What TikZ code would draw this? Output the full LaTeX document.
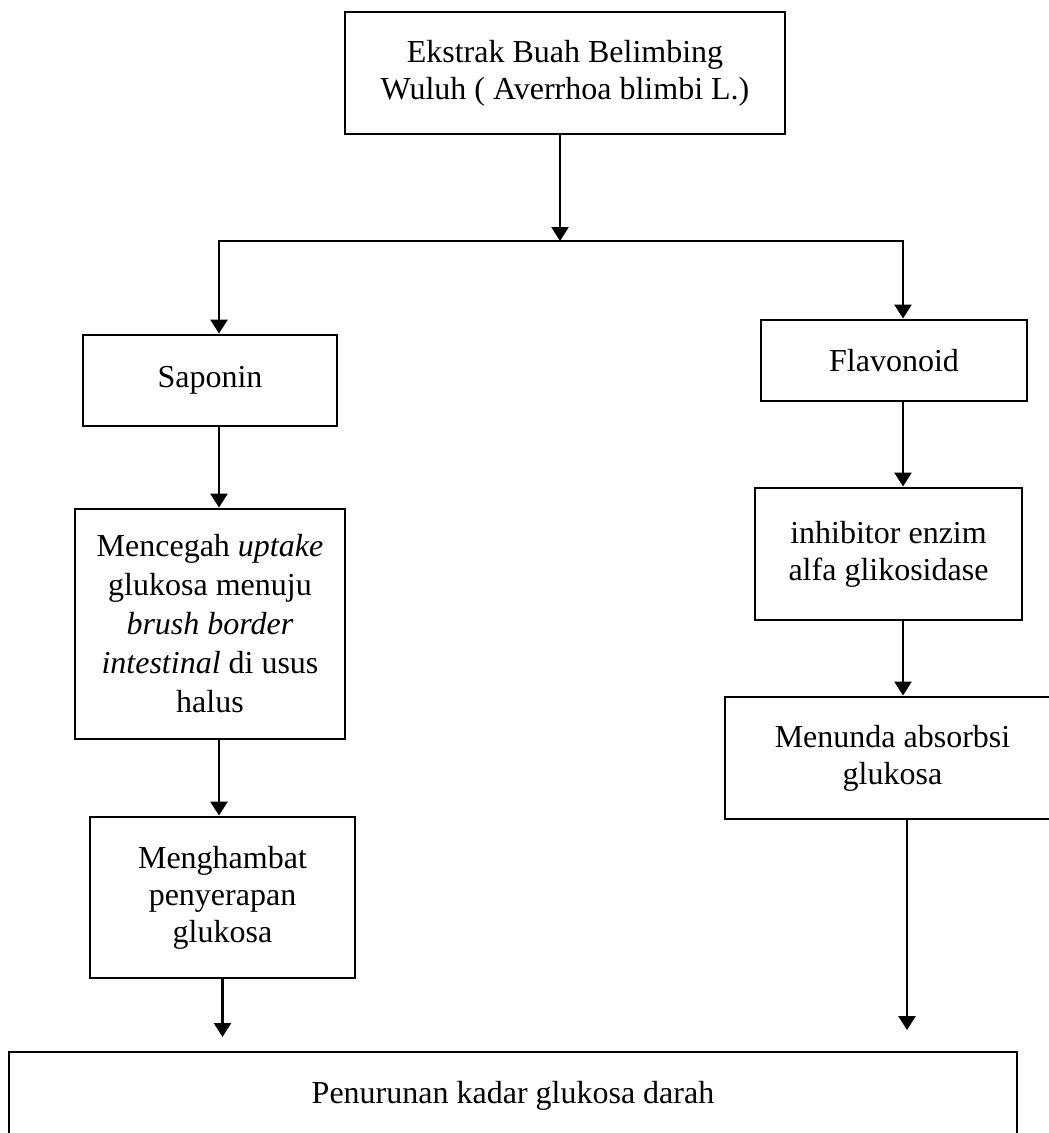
\documentclass[tikz,border=0pt]{standalone}
\usepackage{fontspec}
\setmainfont{Liberation Serif}
\usetikzlibrary{arrows.meta}
\begin{document}
\begin{tikzpicture}[x=1pt,y=-1pt,
  box/.style={draw, line width=2.9pt, align=center, inner sep=0pt,
    font=\fontsize{32}{37}\selectfont},
  arr/.style={line width=2.6pt, -{Triangle[width=17pt,length=14pt]}},
  arrtwo/.style={line width=2.6pt, {Triangle[width=17pt,length=14pt]}-{Triangle[width=17pt,length=14pt]}},
  ln/.style={line width=2.6pt}]
\useasboundingbox (0,0) rectangle (1049,1133);
\clip (0,0) rectangle (1049,1133);
% boxes
\node[box, minimum width=440pt, minimum height=122pt] (top) at (565,73)
  {Ekstrak Buah Belimbing\\Wuluh ( Averrhoa blimbi L.)};
\node[box, minimum width=254pt, minimum height=91pt] (sap) at (210,380.5) {Saponin};
\node[box, minimum width=270pt, minimum height=230pt,
  font=\fontsize{32}{39}\selectfont] (men) at (210,624)
  {Mencegah \textit{uptake}\\glukosa menuju\\\textit{brush border}\\\textit{intestinal} di usus\\halus};
\node[box, minimum width=265pt, minimum height=161pt,
  font=\fontsize{32}{37}\selectfont] (mhb) at (222.5,897.5)
  {Menghambat\\penyerapan\\glukosa};
\node[box, minimum width=266pt, minimum height=81pt] (fla) at (894,360.5) {Flavonoid};
\node[box, minimum width=267pt, minimum height=132pt] (inh) at (888.5,554)
  {inhibitor enzim\\alfa glikosidase};
\node[box, minimum width=335pt, minimum height=122pt] (mnd) at (892.5,758)
  {Menunda absorbsi\\glukosa};
\node[box, minimum width=1008pt, minimum height=88pt] (bot) at (513,1096)
  {Penurunan kadar glukosa darah};
% connectors
\coordinate (jn) at (560,241);
\coordinate (lc) at (219,241);
\coordinate (rc) at (903,241);
\draw[arr] (top.south -| jn) -- (jn);
\draw[arrtwo] (lc |- sap.north) -- (lc) -- (rc) -- (rc |- fla.north);
\draw[arr] (sap.south -| lc) -- (lc |- men.north);
\draw[arr] (men.south -| lc) -- (lc |- mhb.north);
\coordinate (e1) at (222.5,1037);
\draw[arr] (mhb.south) -- (e1);
\draw[arr] (fla.south -| rc) -- (rc |- inh.north);
\draw[arr] (inh.south -| rc) -- (rc |- mnd.north);
\coordinate (e2) at (907,1030);
\draw[arr] (mnd.south -| e2) -- (e2);
\end{tikzpicture}
\end{document}
